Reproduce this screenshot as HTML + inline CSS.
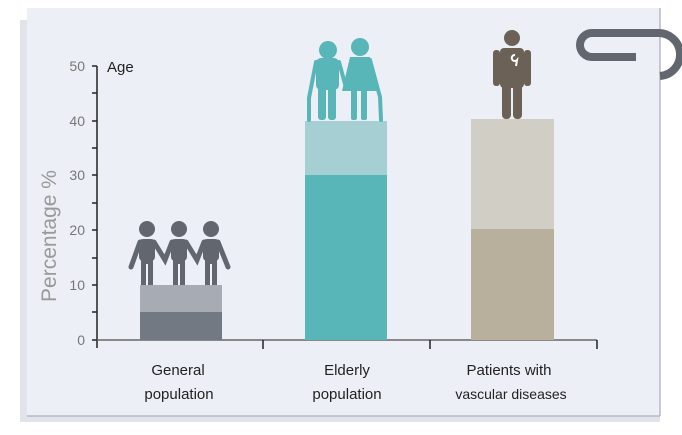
<!DOCTYPE html>
<html><head><style>
body{margin:0;width:682px;height:430px;background:#fff;overflow:hidden;font-family:"Liberation Sans",sans-serif}
</style></head><body>
<svg width="682" height="430" viewBox="0 0 682 430" xmlns="http://www.w3.org/2000/svg">
<rect x="20" y="20" width="640" height="402" fill="#e1e4ea"/>
<rect x="27" y="8" width="633" height="408" fill="#eceff6"/>
<line x1="660" y1="8" x2="660" y2="416" stroke="#b8bac0" stroke-width="1.5"/>
<line x1="27" y1="416" x2="660" y2="416" stroke="#b8bac0" stroke-width="1.5"/>
<path d="M636 57 L592 57 A12 12 0 0 1 592 33 L657 33 A21 21 0 0 1 660 76" fill="none" stroke="#62666e" stroke-width="8" stroke-linecap="butt"/>
<g stroke="#222" stroke-width="1.5">
<line x1="97" y1="66" x2="97" y2="348"/>
<line x1="97" y1="340" x2="597" y2="340" stroke="#666"/>
<line x1="263" y1="340" x2="263" y2="349"/>
<line x1="430" y1="340" x2="430" y2="349"/>
<line x1="597" y1="340" x2="597" y2="349"/>
</g>
<g stroke="#222" stroke-width="1.5">
<line x1="92" y1="66" x2="97" y2="66"/><line x1="92" y1="93" x2="97" y2="93"/><line x1="92" y1="121" x2="97" y2="121"/><line x1="92" y1="148" x2="97" y2="148"/><line x1="92" y1="175" x2="97" y2="175"/><line x1="92" y1="203" x2="97" y2="203"/><line x1="92" y1="230" x2="97" y2="230"/><line x1="92" y1="258" x2="97" y2="258"/><line x1="92" y1="285" x2="97" y2="285"/><line x1="92" y1="312" x2="97" y2="312"/><line x1="92" y1="340" x2="97" y2="340"/>
</g>
<g font-size="14" fill="#777" text-anchor="end">
<text x="85" y="71">50</text><text x="85" y="126">40</text><text x="85" y="180">30</text><text x="85" y="235">20</text><text x="85" y="290">10</text><text x="85" y="345">0</text>
</g>
<text x="107" y="72" font-size="15" fill="#222">Age</text>
<text transform="translate(56,236) rotate(-90)" text-anchor="middle" font-size="21" fill="#999">Percentage %</text>
<rect x="140" y="285" width="82" height="27" fill="#a7acb4"/>
<rect x="140" y="312" width="82" height="28" fill="#737982"/>
<rect x="305" y="121" width="82" height="54" fill="#a6cfd3"/>
<rect x="305" y="175" width="82" height="165" fill="#58b6b8"/>
<rect x="471" y="119" width="83" height="110" fill="#d1cec6"/>
<rect x="471" y="229" width="83" height="111" fill="#b8b09c"/>
<g fill="#62666e" stroke="#62666e">
<circle cx="147" cy="229" r="8" stroke="none"/><circle cx="179" cy="229" r="8" stroke="none"/><circle cx="211" cy="229" r="8" stroke="none"/>
<rect x="139" y="239" width="16" height="22" rx="4" stroke="none"/><rect x="171" y="239" width="16" height="22" rx="4" stroke="none"/><rect x="203" y="239" width="16" height="22" rx="4" stroke="none"/>
<rect x="141" y="255" width="12" height="30" stroke="none"/><rect x="173" y="255" width="12" height="30" stroke="none"/><rect x="205" y="255" width="12" height="30" stroke="none"/>
<path d="M140 242 L131 267 M154 242 L165 260 L172 242 M186 242 L197 260 L204 242 M218 242 L228 267" fill="none" stroke-width="5" stroke-linecap="round"/>
</g>
<g fill="#f0f2f7"><rect x="146" y="264" width="2" height="21"/><rect x="178" y="264" width="2" height="21"/><rect x="210" y="264" width="2" height="21"/></g>
<g fill="#58b6b8" stroke="#58b6b8">
<circle cx="328" cy="50" r="9" stroke="none"/><circle cx="360" cy="47" r="9" stroke="none"/>
<rect x="316" y="58" width="23" height="32" rx="5" stroke="none"/>
<rect x="318" y="84" width="8" height="36" rx="3" stroke="none"/><rect x="328" y="84" width="8" height="36" rx="3" stroke="none"/>
<path d="M350 57 L370 57 L378 91 L342 91 Z" stroke="none"/>
<rect x="351" y="90" width="6" height="30" rx="2" stroke="none"/><rect x="361" y="90" width="6" height="30" rx="2" stroke="none"/>
<path d="M316 62 L309 98 L309 120 M339 62 L345 84 M370 60 L380 97 L381 120" fill="none" stroke-width="4" stroke-linecap="round"/>
</g>
<g fill="#6b6156">
<circle cx="512" cy="38" r="8"/>
<rect x="500" y="48" width="24" height="40" rx="4"/>
<rect x="493" y="50" width="7" height="36" rx="3"/><rect x="524" y="50" width="7" height="36" rx="3"/>
<rect x="502" y="82" width="9" height="37" rx="4"/><rect x="513" y="82" width="9" height="37" rx="4"/>
</g>
<path d="M515 55 a3 3 0 1 0 2 5 l-1 6" stroke="#fff" stroke-width="2" fill="none"/>
<g font-size="15" fill="#222" text-anchor="middle">
<text x="178" y="375">General</text><text x="179" y="399">population</text>
<text x="347" y="375">Elderly</text><text x="347" y="399">population</text>
<text x="509" y="375">Patients with</text><text x="511" y="399" font-size="14">vascular diseases</text>
</g>
</svg>
</body></html>
